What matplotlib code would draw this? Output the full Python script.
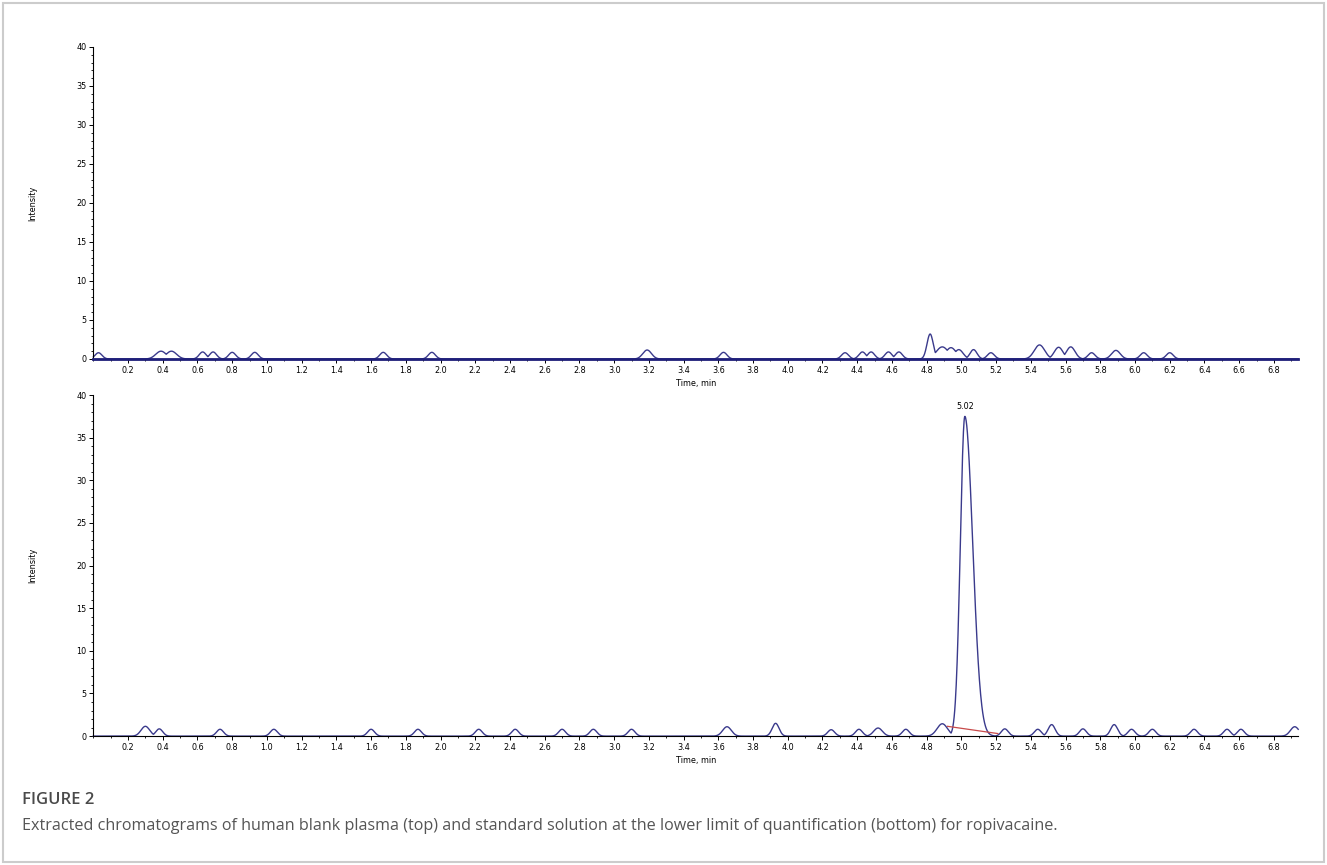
import numpy as np
import matplotlib.pyplot as plt
from matplotlib.patches import Rectangle
from matplotlib.ticker import MultipleLocator, FormatStrFormatter

# top: human blank plasma -- small noise bumps (retention time, height)
blank_times = [0.03, 0.39, 0.45, 0.63, 0.69, 0.80, 0.93, 1.67, 1.95, 3.19, 3.63,
               4.33, 4.43, 4.48, 4.58, 4.64, 4.82, 4.89, 4.94, 4.985, 5.07, 5.17,
               5.45, 5.56, 5.63, 5.75, 5.89, 6.05, 6.20]
blank_heights = [0.8, 1.0, 1.0, 0.9, 0.9, 0.85, 0.85, 0.85, 0.85, 1.15, 0.85,
                 0.8, 0.9, 0.9, 0.9, 0.9, 3.2, 1.55, 1.45, 1.2, 1.2, 0.8,
                 1.8, 1.5, 1.55, 0.8, 1.1, 0.8, 0.8]
blank_widths = [0.02, 0.03, 0.03, 0.02, 0.02, 0.02, 0.02, 0.02, 0.02, 0.025, 0.02,
                0.02, 0.02, 0.02, 0.02, 0.02, 0.018, 0.035, 0.03, 0.025, 0.02, 0.02,
                0.03, 0.025, 0.025, 0.02, 0.025, 0.02, 0.02]

# bottom: standard solution at LLOQ
lloq_times = [0.30, 0.38, 0.73, 1.04, 1.60, 1.87, 2.22, 2.43, 2.70, 2.88, 3.10,
              3.65, 3.93, 4.25, 4.41, 4.52, 4.68, 4.89, 5.25, 5.44, 5.52, 5.70,
              5.88, 5.98, 6.10, 6.34, 6.53, 6.61, 6.92, 6.96]
lloq_heights = [1.15, 0.85, 0.8, 0.8, 0.8, 0.8, 0.8, 0.8, 0.8, 0.8, 0.8,
                1.1, 1.5, 0.75, 0.8, 0.95, 0.8, 1.45, 0.85, 0.8, 1.35, 0.85,
                1.35, 0.8, 0.8, 0.8, 0.8, 0.8, 1.1, 1.1]
lloq_widths = [0.025, 0.02, 0.02, 0.02, 0.02, 0.02, 0.02, 0.02, 0.02, 0.02, 0.02,
               0.025, 0.02, 0.02, 0.02, 0.025, 0.02, 0.03, 0.02, 0.02, 0.02, 0.02,
               0.02, 0.02, 0.02, 0.02, 0.02, 0.02, 0.025, 0.025]

# ropivacaine peak
peak_rt = 5.02
peak_height = 37.5
peak_width = 0.026
peak_tail = 0.045
baseline_start = (4.92, 1.15)
baseline_end = (5.21, 0.3)

x_max = 6.94
trace_color = "#3a3a8c"
label_font = dict(family="DejaVu Sans", fontstretch="condensed", fontsize=6.5)


def trace(t, times, heights, widths):
    # each bump as a gaussian; overlapping bumps keep the larger value
    y = np.zeros_like(t)
    for c, h, w in zip(times, heights, widths):
        y = np.maximum(y, h * np.exp(-(t - c) ** 2 / (2 * w ** 2)))
    return y


def style_axis(ax):
    ax.set_xlim(0, x_max)
    ax.set_ylim(0, 40)
    for s in ["top", "right"]:
        ax.spines[s].set_visible(False)
    ax.spines["left"].set_linewidth(0.8)
    ax.spines["bottom"].set_linewidth(0.8)
    ax.xaxis.set_major_locator(MultipleLocator(0.2))
    ax.xaxis.set_minor_locator(MultipleLocator(0.1))
    ax.xaxis.set_major_formatter(FormatStrFormatter("%.1f"))
    ax.yaxis.set_major_locator(MultipleLocator(5))
    ax.yaxis.set_minor_locator(MultipleLocator(1))
    ax.tick_params(which="major", length=3, width=0.7, pad=2)
    ax.tick_params(which="minor", length=1.5, width=0.6)
    for lab in ax.get_xticklabels() + ax.get_yticklabels():
        lab.set_family("DejaVu Sans")
        lab.set_fontstretch("condensed")
        lab.set_fontsize(6.5)
    # hide the 0.0 label like the instrument software
    ax.set_xticks([v for v in ax.get_xticks() if 0.1 < v < x_max])
    ax.set_xlabel("Time, min", labelpad=3, **label_font)
    ax.set_ylabel("Intensity", labelpad=28, **label_font)


fig = plt.figure(figsize=(13.27, 8.65), dpi=100)
fig.patches.append(Rectangle((0.002, 0.003), 0.996, 0.994, transform=fig.transFigure,
                             fill=False, edgecolor="#cccccc", linewidth=1.5))

t = np.linspace(0, x_max, 4000)

ax1 = fig.add_axes([0.0703, 0.585, 0.908, 0.3607])
ax1.plot(t, trace(t, blank_times, blank_heights, blank_widths), color=trace_color,
         lw=1.0, clip_on=False)
ax1.plot([0, x_max], [0, 0], color="#1f1f7a", lw=2.0, zorder=3, clip_on=False)
style_axis(ax1)

ax2 = fig.add_axes([0.0703, 0.149, 0.908, 0.3943])
y2 = trace(t, lloq_times, lloq_heights, lloq_widths)
main = np.where(t < peak_rt,
                peak_height * np.exp(-(t - peak_rt) ** 2 / (2 * peak_width ** 2)),
                peak_height * np.exp(-(t - peak_rt) ** 2 / (2 * peak_tail ** 2)))
y2 = np.maximum(y2, main)
ax2.plot(t, y2, color=trace_color, lw=1.0, clip_on=False)
ax2.plot([baseline_start[0], baseline_end[0]], [baseline_start[1], baseline_end[1]],
         color="#c84a4a", lw=0.9)
ax2.text(peak_rt, peak_height + 0.6, "%.2f" % peak_rt, ha="center", va="bottom",
         **label_font)
style_axis(ax2)

fig.text(0.0166, 0.075, "FIGURE 2", family="Open Sans", fontsize=12,
         fontweight="semibold", color="#4a4a4a", va="center")
fig.text(0.0166, 0.045, "Extracted chromatograms of human blank plasma (top) and standard "
         "solution at the lower limit of quantification (bottom) for ropivacaine.",
         family="Open Sans", fontsize=11.6, color="#555555", va="center")

fig.savefig("out.png", dpi=100)
